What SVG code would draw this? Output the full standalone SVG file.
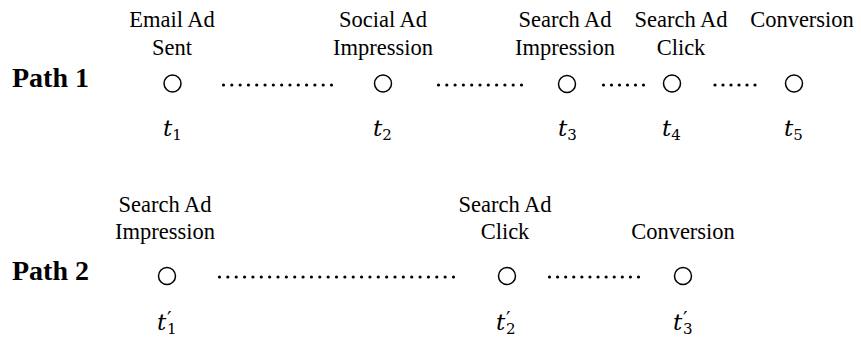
<svg xmlns="http://www.w3.org/2000/svg" width="861" height="339" viewBox="0 0 861 339">
<style>
  .lbl { font-family: 'Liberation Serif', 'Times New Roman', Times, serif; font-size: 22.5px; fill: #000; text-anchor: middle; }
  .path { font-family: 'Liberation Serif', 'Times New Roman', Times, serif; font-size: 28px; font-weight: bold; fill: #000; }
  .t { font-family: 'DejaVu Serif', serif; font-style: italic; font-size: 23px; fill: #000; }
  .sub { font-family: 'DejaVu Serif', serif; font-style: normal; font-size: 15px; }
  .pr { font-family: 'DejaVu Serif', serif; font-style: normal; font-size: 20px; }
  .node { fill: none; stroke: #000; stroke-width: 1.5; }
  .dots { stroke: #000; stroke-width: 3.2; stroke-linecap: round; fill: none; }
</style>
<rect width="861" height="339" fill="#fff"/>
<text class="path" x="12" y="87">Path 1</text>
<text class="path" x="12" y="280">Path 2</text>

<g id="connectors">
  <line class="dots" x1="223.5" y1="85" x2="332" y2="85" stroke-dasharray="0 8.308"/>
  <line class="dots" x1="438.5" y1="85" x2="522" y2="85" stroke-dasharray="0 8.3"/>
  <line class="dots" x1="603.5" y1="85" x2="644" y2="85" stroke-dasharray="0 8"/>
  <line class="dots" x1="715" y1="85" x2="755.5" y2="85" stroke-dasharray="0 8"/>
  <line class="dots" x1="219.5" y1="277" x2="454" y2="277" stroke-dasharray="0 8.357"/>
  <line class="dots" x1="549.5" y1="277" x2="639" y2="277" stroke-dasharray="0 8.09"/>
</g>

<g id="p1-email">
  <text class="lbl" x="172" y="27">Email Ad</text>
  <text class="lbl" x="172" y="55">Sent</text>
  <circle class="node" cx="172.5" cy="83.5" r="8.5"/>
  <text class="t" x="163" y="136">t<tspan class="sub" dy="4">1</tspan></text>
</g>
<g id="p1-social">
  <text class="lbl" x="383" y="27">Social Ad</text>
  <text class="lbl" x="383" y="55">Impression</text>
  <circle class="node" cx="383" cy="83.5" r="8.5"/>
  <text class="t" x="373" y="136">t<tspan class="sub" dy="4">2</tspan></text>
</g>
<g id="p1-search-imp">
  <text class="lbl" x="565" y="27">Search Ad</text>
  <text class="lbl" x="565" y="55">Impression</text>
  <circle class="node" cx="567" cy="84" r="8.5"/>
  <text class="t" x="558" y="136">t<tspan class="sub" dy="4">3</tspan></text>
</g>
<g id="p1-search-click">
  <text class="lbl" x="681" y="27">Search Ad</text>
  <text class="lbl" x="681" y="55">Click</text>
  <circle class="node" cx="672" cy="83.5" r="8.5"/>
  <text class="t" x="662" y="136">t<tspan class="sub" dy="4">4</tspan></text>
</g>
<g id="p1-conversion">
  <text class="lbl" x="802" y="27">Conversion</text>
  <circle class="node" cx="794" cy="83.5" r="8.5"/>
  <text class="t" x="784" y="136">t<tspan class="sub" dy="4">5</tspan></text>
</g>

<g id="p2-search-imp">
  <text class="lbl" x="165" y="212">Search Ad</text>
  <text class="lbl" x="165" y="239">Impression</text>
  <circle class="node" cx="167" cy="276" r="8.5"/>
  <text class="t" x="157" y="330">t<tspan class="pr" x="167" dy="-4">′</tspan><tspan class="sub" x="167" dy="8">1</tspan></text>
</g>
<g id="p2-search-click">
  <text class="lbl" x="505" y="212">Search Ad</text>
  <text class="lbl" x="505" y="239">Click</text>
  <circle class="node" cx="507" cy="276" r="8.5"/>
  <text class="t" x="496" y="330">t<tspan class="pr" x="506" dy="-4">′</tspan><tspan class="sub" x="506" dy="8">2</tspan></text>
</g>
<g id="p2-conversion">
  <text class="lbl" x="683" y="239">Conversion</text>
  <circle class="node" cx="683" cy="276" r="8.5"/>
  <text class="t" x="673" y="330">t<tspan class="pr" x="683" dy="-4">′</tspan><tspan class="sub" x="683" dy="8">3</tspan></text>
</g>
</svg>
